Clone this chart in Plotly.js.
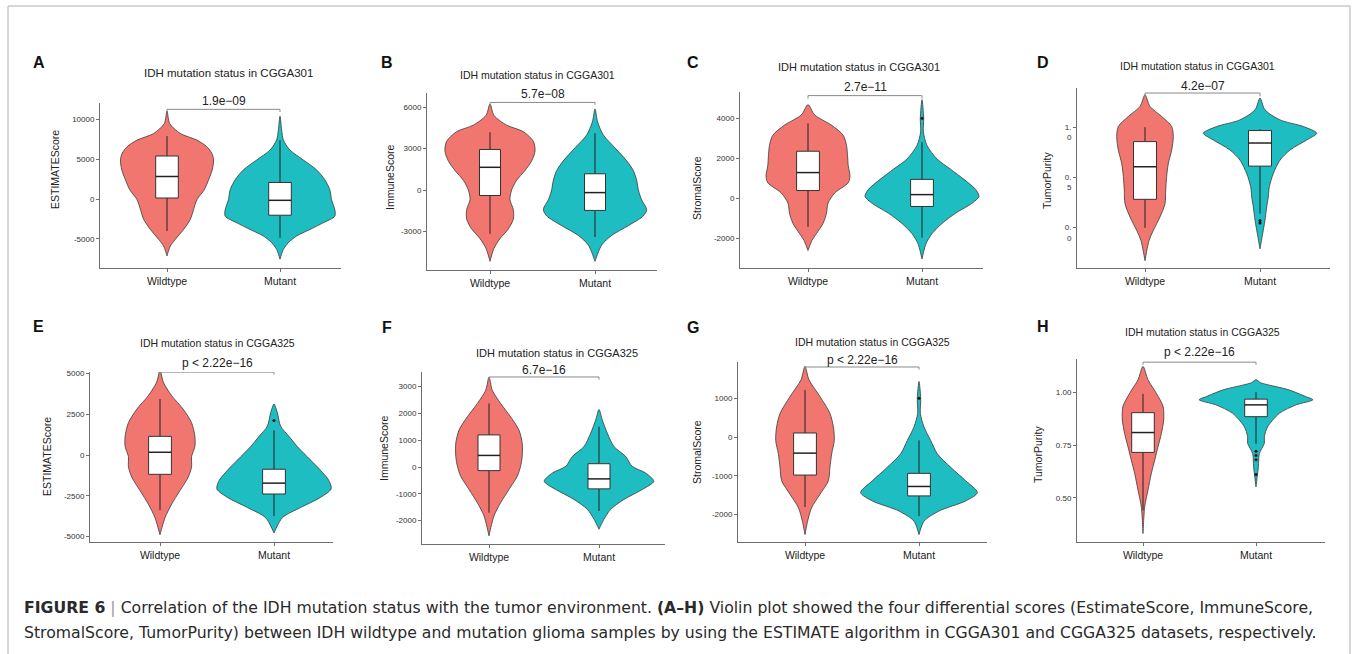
<!DOCTYPE html>
<html><head><meta charset="utf-8">
<script src="https://cdn.plot.ly/plotly-3.0.1.min.js"></script>
<style>html,body{margin:0;padding:0;background:#fff}#chart{width:1356px;height:654px}</style>
</head><body><div id="chart"></div>
<script>
// ---------------- DATA ----------------
const categories = ['Wildtype', 'Mutant'];
const panelLetters = ['A','B','C','D','E','F','G','H'];
const panelTitles = ['IDH mutation status in CGGA301','IDH mutation status in CGGA301','IDH mutation status in CGGA301','IDH mutation status in CGGA301',
  'IDH mutation status in CGGA325','IDH mutation status in CGGA325','IDH mutation status in CGGA325','IDH mutation status in CGGA325'];
const yLabels = ['ESTIMATEScore','ImmuneScore','StromalScore','TumorPurity','ESTIMATEScore','ImmuneScore','StromalScore','TumorPurity'];
const pValues = ['1.9e\u221209','5.7e\u221208','2.7e\u221211','4.2e\u221207','p < 2.22e\u221216','6.7e\u221216','p < 2.22e\u221216','p < 2.22e\u221216'];

// y tick values / labels
const A_ticks = [-5000, 0, 5000, 10000], A_tickText = ['-5000','0','5000','10000'];
const B_ticks = [-3000, 0, 3000, 6000], B_tickText = ['-3000','0','3000','6000'];
const C_ticks = [-2000, 0, 2000, 4000], C_tickText = ['-2000','0','2000','4000'];
const D_ticks = [0, 0.5, 1.0], D_tickText = ['0.<br>0','0.<br>5','1.<br>0'];
const E_ticks = [-5000, -2500, 0, 2500, 5000], E_tickText = ['-5000','-2500','0','2500','5000'];
const F_ticks = [-2000, -1000, 0, 1000, 2000, 3000], F_tickText = ['-2000','-1000','0','1000','2000','3000'];
const G_ticks = [-2000, -1000, 0, 1000], G_tickText = ['-2000','-1000','0','1000'];
const H_ticks = [0.5, 0.75, 1.0], H_tickText = ['0.50','0.75','1.00'];

// Violin outlines: value levels (y) and half-widths (category units)
const A_wt_y  = [11083, 9500, 8250, 7417, 6583, 5750, 4917, 3667, 2417, 1167, -83, -1333, -2583, -3833, -5083, -5917, -7167];
const A_wt_w  = [0, 0.024, 0.118, 0.265, 0.353, 0.397, 0.412, 0.40, 0.368, 0.33, 0.265, 0.235, 0.206, 0.147, 0.074, 0.03, 0];
const A_mut_y = [10417, 8667, 7417, 6167, 4917, 3667, 2417, 1167, -83, -1333, -2167, -3000, -3833, -4667, -5500, -6333, -7583];
const A_mut_w = [0, 0.015, 0.03, 0.088, 0.206, 0.324, 0.397, 0.441, 0.456, 0.485, 0.485, 0.382, 0.265, 0.147, 0.074, 0.03, 0];

const B_wt_y  = [6211, 5391, 4688, 4219, 3516, 2813, 2109, 1406, 703, 0, -703, -1406, -2109, -2813, -3516, -4219, -5156];
const B_wt_w  = [0, 0.038, 0.159, 0.317, 0.413, 0.429, 0.397, 0.333, 0.254, 0.206, 0.19, 0.222, 0.222, 0.175, 0.095, 0.038, 0];
const B_mut_y = [5860, 4922, 3984, 3047, 2109, 1406, 703, 0, -703, -1406, -1875, -2578, -3281, -3984, -5156];
const B_mut_w = [0, 0.025, 0.079, 0.19, 0.302, 0.365, 0.397, 0.413, 0.444, 0.492, 0.46, 0.317, 0.159, 0.063, 0];

const C_wt_y  = [4661, 4153, 3644, 3136, 2627, 2119, 1610, 1102, 763, 254, -254, -763, -1271, -1780, -2119, -2627];
const C_wt_w  = [0, 0.059, 0.206, 0.309, 0.338, 0.347, 0.353, 0.368, 0.353, 0.235, 0.176, 0.162, 0.132, 0.074, 0.035, 0];
const C_mut_y = [4915, 3983, 3305, 2627, 1949, 1441, 932, 424, 85, -254, -763, -1271, -1780, -2288, -3051];
const C_mut_w = [0, 0.015, 0.012, 0.044, 0.132, 0.25, 0.368, 0.471, 0.5, 0.441, 0.294, 0.176, 0.088, 0.035, 0];

const D_wt_y  = [1.323, 1.207, 1.107, 1.007, 0.907, 0.773, 0.64, 0.507, 0.373, 0.24, 0.107, -0.027, -0.127, -0.327];
const D_wt_w  = [0, 0.043, 0.145, 0.232, 0.246, 0.232, 0.203, 0.188, 0.18, 0.174, 0.13, 0.072, 0.035, 0];
const D_mut_y = [1.29, 1.173, 1.073, 1.007, 0.94, 0.873, 0.773, 0.673, 0.54, 0.407, 0.307, 0.207, 0.073, -0.06, -0.21];
const D_mut_w = [0, 0.043, 0.174, 0.377, 0.493, 0.406, 0.261, 0.174, 0.116, 0.081, 0.072, 0.058, 0.043, 0.023, 0];

const E_wt_y  = [5208, 4479, 3646, 2813, 1979, 1146, 521, -104, -729, -1354, -2188, -3021, -3854, -4896];
const E_wt_w  = [0, 0.029, 0.102, 0.204, 0.277, 0.306, 0.306, 0.277, 0.277, 0.248, 0.175, 0.102, 0.044, 0];
const E_mut_y = [3125, 2604, 1771, 1146, 521, -313, -938, -1563, -2083, -2604, -3229, -3854, -4792];
const E_mut_w = [0, 0.029, 0.058, 0.131, 0.204, 0.321, 0.408, 0.481, 0.501, 0.408, 0.233, 0.073, 0];

const F_wt_y  = [3358, 2864, 2370, 1877, 1383, 889, 395, 25, -346, -840, -1333, -1828, -2568];
const F_wt_w  = [0, 0.03, 0.106, 0.196, 0.272, 0.302, 0.302, 0.287, 0.257, 0.181, 0.106, 0.045, 0];
const F_mut_y = [2149, 1753, 1259, 765, 395, 25, -222, -531, -840, -1210, -1580, -1951, -2321];
const F_mut_w = [0, 0.03, 0.076, 0.136, 0.242, 0.302, 0.423, 0.498, 0.393, 0.227, 0.106, 0.045, 0];

const G_wt_y  = [1826, 1478, 1043, 609, 261, -87, -435, -783, -1130, -1478, -1826, -2174, -2522];
const G_wt_w  = [0, 0.035, 0.132, 0.219, 0.249, 0.257, 0.234, 0.219, 0.205, 0.132, 0.058, 0.023, 0];
const G_mut_y = [1435, 1000, 609, 261, -87, -435, -783, -1130, -1435, -1652, -1913, -2174, -2522];
const G_mut_w = [0, 0.015, 0.012, 0.044, 0.102, 0.161, 0.278, 0.409, 0.512, 0.409, 0.175, 0.044, 0];

const H_wt_y  = [1.122, 1.059, 0.995, 0.932, 0.869, 0.805, 0.742, 0.679, 0.616, 0.536, 0.457, 0.331];
const H_wt_w  = [0, 0.044, 0.118, 0.178, 0.183, 0.163, 0.133, 0.104, 0.074, 0.044, 0.015, 0];
const H_mut_y = [1.059, 1.045, 1.011, 0.979, 0.964, 0.94, 0.9, 0.837, 0.79, 0.758, 0.71, 0.647, 0.552];
const H_mut_w = [0, 0.04, 0.29, 0.44, 0.503, 0.355, 0.207, 0.104, 0.074, 0.074, 0.03, 0.021, 0];

// Box statistics: [lower whisker, q1, median, q3, upper whisker]
const A_wt_box  = [-4042, 125, 2833, 5417, 7917];
const A_mut_box = [-4875, -2042, -167, 2083, 7417];
const B_wt_box  = [-3164, -398, 1641, 2930, 4172];
const B_mut_box = [-3398, -1477, -188, 1172, 4102];
const C_wt_box  = [-1441, 373, 1271, 2339, 3729];
const C_mut_box = [-1983, -424, 169, 932, 2797];
const D_wt_box  = [0.0, 0.283, 0.607, 0.857, 1.0];
const D_mut_box = [0.14, 0.613, 0.843, 0.967, 0.98];
const E_wt_box  = [-3396, -1188, 167, 1146, 3438];
const E_mut_box = [-3750, -2396, -1729, -875, 1521];
const F_wt_box  = [-1704, -136, 432, 1198, 2371];
const F_mut_box = [-1642, -815, -444, 123, 1506];
const G_wt_box  = [-1809, -983, -417, 104, 1217];
const G_mut_box = [-2043, -1522, -1278, -939, -87];
const H_wt_box  = [0.441, 0.715, 0.809, 0.903, 0.992];
const H_mut_box = [0.755, 0.884, 0.94, 0.967, 1.0];

// Outliers (mutant groups)
const C_mut_out = [3983];
const D_mut_out = [0.073, 0.047];
const E_mut_out = [2125];
const G_mut_out = [1000];
const H_mut_out = [0.72, 0.70, 0.68, 0.61];

// ---------------- LAYOUT CONFIG (pixels) ----------------
const W = 1356, H = 654;
const RED = '#F17670', TEAL = '#1DBDC1';
const FONT = 'Liberation Sans, Arial, Helvetica, sans-serif';
const BOXW = 0.1;
const cfg = [
  {L:100,R:341,T:103,B:268,c1:167,c2:280,yr:[-8690,12090],tick:[A_ticks,A_tickText],wt:[A_wt_y,A_wt_w],mut:[A_mut_y,A_mut_w],box:[A_wt_box,A_mut_box],out:[],
   title:[228,73,11.5],letter:[39,63],ytitle:[55,170],br:[11292,10958],ps:7},
  {L:427,R:657,T:93,B:270,c1:490,c2:595,yr:[-5783,7012],tick:[B_ticks,B_tickText],wt:[B_wt_y,B_wt_w],mut:[B_mut_y,B_mut_w],box:[B_wt_box,B_mut_box],out:[],
   title:[537,75,10.5],letter:[387,63],ytitle:[390,177],br:[6329,6165],ps:7},
  {L:740,R:983,T:92,B:268,c1:808,c2:922,yr:[-3500,5300],tick:[C_ticks,C_tickText],wt:[C_wt_y,C_wt_w],mut:[C_mut_y,C_mut_w],box:[C_wt_box,C_mut_box],out:C_mut_out,
   title:[859,67,11],letter:[693,62],ytitle:[697,188],br:[5119,4966],ps:8},
  {L:1077,R:1330,T:88,B:268,c1:1145,c2:1260,yr:[-0.4,1.39],tick:[D_ticks,D_tickText],wt:[D_wt_y,D_wt_w],mut:[D_mut_y,D_mut_w],box:[D_wt_box,D_mut_box],out:D_mut_out,
   title:[1197,66,10.5],letter:[1043,62],ytitle:[1047,180],br:[1.34,1.307],ps:6,tshift:5},
  {L:90,R:333,T:372,B:542,c1:160,c2:274,yr:[-5344,5098],tick:[E_ticks,E_tickText],wt:[E_wt_y,E_wt_w],mut:[E_mut_y,E_mut_w],box:[E_wt_box,E_mut_box],out:E_mut_out,
   title:[217,343,10.5],letter:[38,326],ytitle:[47,457],br:[5090,4937],ps:8},
  {L:422,R:665,T:372,B:544,c1:489,c2:599,yr:[-2873,3545],tick:[F_ticks,F_tickText],wt:[F_wt_y,F_wt_w],mut:[F_mut_y,F_mut_w],box:[F_wt_box,F_mut_box],out:[],
   title:[557,353,11],letter:[387,327],ytitle:[384,448],br:[3359,3260],ps:6},
  {L:738,R:987,T:362,B:542,c1:805,c2:919,yr:[-2713,1938],tick:[G_ticks,G_tickText],wt:[G_wt_y,G_wt_w],mut:[G_mut_y,G_mut_w],box:[G_wt_box,G_mut_box],out:G_mut_out,
   title:[872,342,10.5],letter:[693,327],ytitle:[697,452],br:[1809,1739],ps:6},
  {L:1077,R:1325,T:359,B:542,c1:1143,c2:1256,yr:[0.291,1.157],tick:[H_ticks,H_tickText],wt:[H_wt_y,H_wt_w],mut:[H_mut_y,H_mut_w],box:[H_wt_box,H_mut_box],out:H_mut_out,
   title:[1202,332,10.5],letter:[1043,326],ytitle:[1038,454],br:[1.142,1.13],ps:9},
];

const px = x => x / W;
const py = y => 1 - y / H;

const traces = [];
const layout = {
  width: W, height: H, margin: {l:0,r:0,t:0,b:0},
  paper_bgcolor: '#fff', plot_bgcolor: 'rgba(0,0,0,0)',
  showlegend: false, font: {family: FONT, color: '#222'},
  annotations: [], shapes: []
};

function violin(pos, ys, ws, color, xa, ya) {
  const x = [], y = [];
  for (let i = 0; i < ys.length; i++) { x.push(pos + ws[i]); y.push(ys[i]); }
  for (let i = ys.length - 1; i >= 0; i--) { x.push(pos - ws[i]); y.push(ys[i]); }
  return {type:'scatter', mode:'lines', x, y, xaxis:xa, yaxis:ya, fill:'toself', fillcolor:color,
    line:{color:'#3a3a3a', width:0.8, shape:'spline', smoothing:0.8}, hoverinfo:'skip'};
}
function boxTraces(pos, s, xa, ya) {
  const [lo, q1, med, q3, hi] = s;
  return [
    {type:'scatter', mode:'lines', x:[pos, pos, null, pos, pos], y:[lo, q1, null, q3, hi], xaxis:xa, yaxis:ya,
      line:{color:'#222', width:1}, hoverinfo:'skip'},
    {type:'scatter', mode:'lines', x:[pos-BOXW, pos+BOXW, pos+BOXW, pos-BOXW, pos-BOXW], y:[q1, q1, q3, q3, q1],
      xaxis:xa, yaxis:ya, fill:'toself', fillcolor:'#ffffff', line:{color:'#333', width:1}, hoverinfo:'skip'},
    {type:'scatter', mode:'lines', x:[pos-BOXW, pos+BOXW], y:[med, med], xaxis:xa, yaxis:ya,
      line:{color:'#222', width:1.5}, hoverinfo:'skip'}
  ];
}

cfg.forEach((c, i) => {
  const n = i + 1;
  const xa = 'x' + (n === 1 ? '' : n), ya = 'y' + (n === 1 ? '' : n);
  const xk = 'xaxis' + (n === 1 ? '' : n), yk = 'yaxis' + (n === 1 ? '' : n);
  const u = c.c2 - c.c1;
  const valToPx = v => c.B - (v - c.yr[0]) / (c.yr[1] - c.yr[0]) * (c.B - c.T);
  layout[xk] = {domain:[px(c.L), px(c.R)], anchor:ya, range:[1 - (c.c1 - c.L)/u, 2 + (c.R - c.c2)/u],
    showline:true, linecolor:'#6e6e6e', linewidth:1, showgrid:false, zeroline:false,
    ticks:'outside', ticklen:3, tickcolor:'#6e6e6e', tickvals:[1,2], ticktext:categories,
    tickfont:{size:10.5, color:'#222', family:FONT}, fixedrange:true};
  layout[yk] = {domain:[py(c.B), py(c.T)], anchor:xa, range:c.yr,
    showline:true, linecolor:'#6e6e6e', linewidth:1, showgrid:false, zeroline:false,
    ticks:'outside', ticklen:3, tickcolor:'#6e6e6e', tickvals:c.tick[0], ticktext:c.tick[1],
    tickfont:{size:8, color:'#333', family:FONT}, fixedrange:true};
  if (c.tshift) layout[yk].ticklabelshift = c.tshift;

  traces.push(violin(1, c.wt[0], c.wt[1], RED, xa, ya));
  traces.push(violin(2, c.mut[0], c.mut[1], TEAL, xa, ya));
  boxTraces(1, c.box[0], xa, ya).forEach(t => traces.push(t));
  boxTraces(2, c.box[1], xa, ya).forEach(t => traces.push(t));
  if (c.out.length) {
    traces.push({type:'scatter', mode:'markers', x:c.out.map(() => 2), y:c.out, xaxis:xa, yaxis:ya,
      marker:{color:'#111', size:3}, hoverinfo:'skip'});
  }
  // significance bracket
  traces.push({type:'scatter', mode:'lines', x:[1,1,2,2], y:[c.br[1], c.br[0], c.br[0], c.br[1]],
    xaxis:xa, yaxis:ya, line:{color:'#8a8a8a', width:1}, hoverinfo:'skip'});
  layout.annotations.push({xref:'paper', yref:'paper', x:px(c.c1 + u/2), y:py(valToPx(c.br[0]) - c.ps - 1), text:pValues[i],
    showarrow:false, xanchor:'center', yanchor:'middle', font:{size:12, color:'#222', family:FONT}});
  // panel title
  layout.annotations.push({xref:'paper', yref:'paper', x:px(c.title[0]), y:py(c.title[1]), text:panelTitles[i],
    showarrow:false, xanchor:'center', yanchor:'middle', font:{size:c.title[2], color:'#222', family:FONT}});
  // panel letter
  layout.annotations.push({xref:'paper', yref:'paper', x:px(c.letter[0]), y:py(c.letter[1]), text:'<b>' + panelLetters[i] + '</b>',
    showarrow:false, xanchor:'center', yanchor:'middle', font:{size:16, color:'#111', family:FONT}});
  // y axis title
  layout.annotations.push({xref:'paper', yref:'paper', x:px(c.ytitle[0]), y:py(c.ytitle[1]), text:yLabels[i], textangle:-90,
    showarrow:false, xanchor:'center', yanchor:'middle', font:{size:10.5, color:'#222', family:FONT}});
});

// frame
layout.shapes.push({type:'path', xref:'paper', yref:'paper',
  path:`M ${px(8)} ${py(654)} L ${px(8)} ${py(6)} L ${px(1350)} ${py(6)} L ${px(1350)} ${py(654)}`,
  line:{color:'#b0b0b0', width:1}});

// caption
const CAPFONT = 'DejaVu Sans, Liberation Sans, Arial, sans-serif';
const captionLine1 = '<b>FIGURE 6</b> <span style="color:#999">|</span> Correlation of the IDH mutation status with the tumor environment. <b>(A–H)</b> Violin plot showed the four differential scores (EstimateScore, ImmuneScore,';
const captionLine2 = 'StromalScore, TumorPurity) between IDH wildtype and mutation glioma samples by using the ESTIMATE algorithm in CGGA301 and CGGA325 datasets, respectively.';
layout.annotations.push({xref:'paper', yref:'paper', x:px(22), y:py(607), text:captionLine1, showarrow:false,
  xanchor:'left', yanchor:'middle', font:{size:15.7, color:'#2a2a2a', family:CAPFONT}});
layout.annotations.push({xref:'paper', yref:'paper', x:px(22), y:py(632), text:captionLine2, showarrow:false,
  xanchor:'left', yanchor:'middle', font:{size:15.7, color:'#2a2a2a', family:CAPFONT}});

Plotly.newPlot('chart', traces, layout, {staticPlot:true, displayModeBar:false});
</script>
</body></html>
